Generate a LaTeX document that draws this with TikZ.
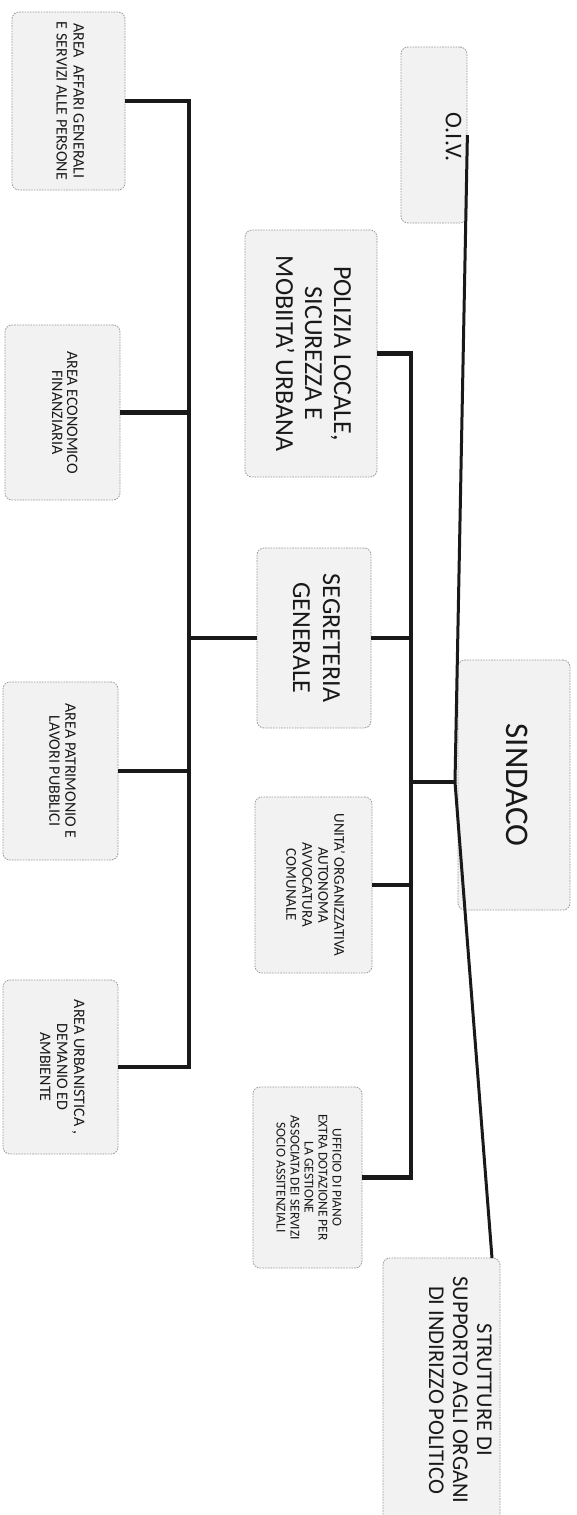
\documentclass[tikz,border=0pt]{standalone}
\usepackage{fontspec}
\setmainfont{Carlito}
\usepackage{graphicx}
\newcommand\rotlbl[3]{\rotatebox{-90}{\fontsize{#1}{#2}\selectfont\begin{tabular}{@{}c@{}}#3\end{tabular}}}
\begin{document}
\begin{tikzpicture}[x=1pt,y=-1pt,
  box/.style={draw=black!40, fill=black!5, rounded corners=7pt, dash pattern=on 1.6pt off 1.1pt, line width=0.8pt, inner sep=0pt, text=black!90},
  lbl/.style={inner sep=0pt, text=black!90},
  conn/.style={line width=4.5pt, draw=black!90, line join=miter},
  thinconn/.style={line width=3pt, draw=black!90, line join=round}]
\useasboundingbox (0,0) rectangle (577,1515);

% left column
\node[box, minimum width=113pt, minimum height=178pt] (affari) at (68.5,101) {\rotlbl{16}{17}{AREA\ \ AFFARI GENERALI\\E SERVIZI ALLE PERSONE}};
\node[box, minimum width=115pt, minimum height=175pt] (economico) at (62.5,412.5) {\rotlbl{16}{15}{AREA ECONOMICO\\FINANZIARIA}};
\node[box, minimum width=115pt, minimum height=178pt] (patrimonio) at (60.5,771) {\rotlbl{16}{16}{AREA PATRIMONIO E\\LAVORI PUBBLICI}};
\node[box, minimum width=115pt, minimum height=174pt] (urbanistica) at (60.5,1067) {\rotlbl{16}{17}{AREA URBANISTICA ,\\DEMANIO ED\\AMBIENTE}};

% middle column
\node[box, minimum width=132pt, minimum height=247pt] (polizia) at (311,353.5) {\rotlbl{26}{29}{POLIZIA LOCALE,\\SICUREZZA E\\MOBIITA’ URBANA}};
\node[box, minimum width=114pt, minimum height=180pt] (segreteria) at (314,638) {\rotlbl{26}{30}{SEGRETERIA\\GENERALE}};
\node[box, minimum width=117pt, minimum height=176pt] (unita) at (313.5,885) {\rotlbl{15}{16}{UNITA’ ORGANIZZATIVA\\AUTONOMA\\AVVOCATURA\\COMUNALE}};
\node[box, minimum width=109pt, minimum height=181pt] (ufficio) at (307.5,1177.5) {\rotlbl{13.5}{14}{UFFICIO DI PIANO\\EXTRA DOTAZIONE PER\\LA GESTIONE\\ASSOCIATA DEI SERVIZI\\SOCIO ASSITENZIALI}};

% right column
\node[box, minimum width=66pt, minimum height=176pt] (oiv) at (434,135) {};
\node[lbl] (oivtext) at (451,137) {\rotlbl{24}{26}{O.I.V.}};
\node[box, minimum width=112pt, minimum height=250pt] (sindaco) at (514,785) {\rotlbl{33}{38}{SINDACO}};
\node[box, minimum width=117pt, minimum height=282pt] (strutture) at (441.5,1399) {};
\node[lbl] (strutturetext) at (458,1390) {\rotlbl{22.5}{24}{STRUTTURE DI\\SUPPORTO AGLI ORGANI\\DI INDIRIZZO POLITICO}};

% spine coordinates
\coordinate (L) at (189,0);
\coordinate (M) at (411,0);
\coordinate (J) at (455,782);
\coordinate (S) at (492,1258);

% left spine
\draw[conn] (affari.east) -- (affari.east -| L) -- (urbanistica.east -| L) -- (urbanistica.east);
\draw[conn] (economico.east) -- (economico.east -| L);
\draw[conn] (patrimonio.east) -- (patrimonio.east -| L);
\draw[conn] (segreteria.west) -- (segreteria.west -| L);

% middle spine
\draw[conn] (polizia.east) -- (polizia.east -| M) -- (ufficio.east -| M) -- (ufficio.east);
\draw[conn] (segreteria.east) -- (segreteria.east -| M);
\draw[conn] (unita.east) -- (unita.east -| M);
\draw[conn] (J -| M) -- (J);

% sindaco line
\draw[thinconn] (oiv.east) -- (J) -- (S);
\end{tikzpicture}
\end{document}
